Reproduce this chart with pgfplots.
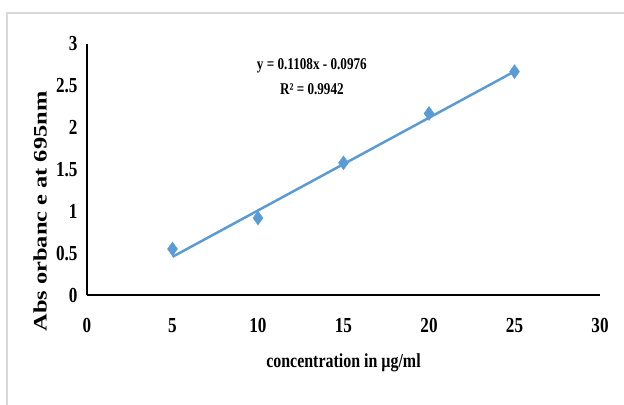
\documentclass[border=0pt]{standalone}
\usepackage{fontspec}
\setmainfont{Liberation Serif}[FakeStretch=0.8]
\newfontfamily\ylabfont{Liberation Serif}
\usepackage{pgfplots}
\pgfplotsset{compat=1.18}
\definecolor{xlblue}{HTML}{5B9BD5}
\definecolor{framegray}{HTML}{D9D9D9}

\begin{document}
\begin{tikzpicture}
% page area and outer chart frame
\path[use as bounding box] (-87bp,-110bp) rectangle (537bp,295bp);
\draw[framegray, line width=1.2bp] (-80bp,-110bp) -- (-80bp,282bp) -- (537bp,282bp);
\begin{axis}[
  at={(0,0)}, anchor=south west,
  scale only axis,
  width=513bp, height=251bp,
  xmin=0, xmax=30, ymin=0, ymax=3,
  xtick={0,5,...,30},
  ytick={0,0.5,...,3},
  axis lines*=left,
  axis line style={black, line width=1.5bp, -},
  major tick length=0pt,
  /pgf/number format/assume math mode=true,
  tick label style={font=\fontsize{21.5}{23}\selectfont\bfseries},
  xticklabel style={yshift=-20bp},
  yticklabel style={xshift=-6bp},
  xlabel={concentration in µg/ml},
  xlabel style={font=\fontsize{20}{22}\selectfont\bfseries, yshift=-14bp},
  ylabel={Abs orbanc e at 695nm},
  ylabel style={font=\ylabfont\fontsize{24.5}{26}\selectfont\bfseries, yscale=0.78, xshift=-42bp, yshift=4bp},
  clip=false,
]
% linear fit y = 0.1108x - 0.0976
\addplot[xlblue, line width=2.5bp] coordinates {(5,0.4564) (25,2.6724)};
% measured absorbance
\addplot[only marks, mark=diamond*, mark size=7bp,
  mark options={fill=xlblue, draw=xlblue, xscale=0.95}] coordinates {
  (5,0.55) (10,0.92) (15,1.58) (20,2.17) (25,2.67)
};
\node[align=center, font=\fontsize{16.5}{26}\selectfont\bfseries]
  at (axis cs:13.15,2.61) {y = 0.1108x - 0.0976\\R² = 0.9942};
\end{axis}
\end{tikzpicture}
\end{document}
